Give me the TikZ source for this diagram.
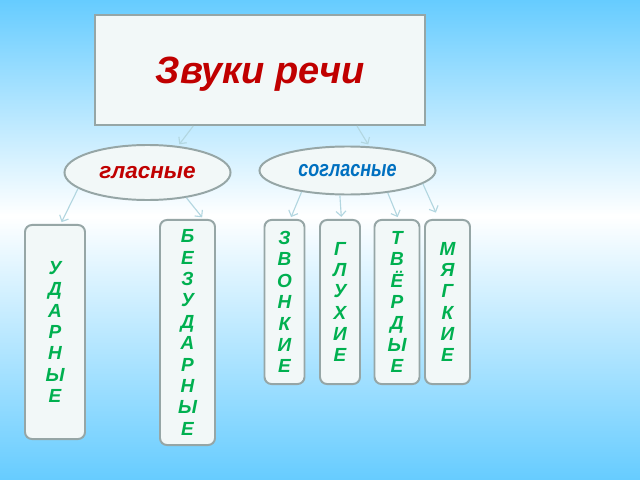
\documentclass[tikz,border=0pt]{standalone}
\usepackage{fontspec}
\setmainfont{Liberation Sans}
\newfontfamily\narrowsans[FakeStretch=0.8]{Liberation Sans}
\usetikzlibrary{arrows.meta,shapes.geometric}
\definecolor{skyblue}{RGB}{102,204,255}
\definecolor{boxfill}{RGB}{242,248,248}
\definecolor{boxline}{RGB}{150,166,166}
\definecolor{titlered}{RGB}{192,0,0}
\definecolor{consblue}{RGB}{0,112,192}
\definecolor{lettergreen}{RGB}{0,176,80}
\definecolor{arrowline}{RGB}{178,214,224}
\tikzset{
	frame/.style={draw=boxline,line width=1.4pt,fill=boxfill},
	oval/.style={frame,ellipse,inner sep=0pt},
	lbox/.style={frame,rounded corners=5pt,align=center,text=lettergreen,
		font=\fontsize{13.5pt}{15.2pt}\selectfont\bfseries\itshape},
	link/.style={-{Straight Barb[length=3.5pt,width=7pt]},draw=arrowline,line width=0.8pt,shorten >=1.5pt}
}
\newcommand{\letters}[5]{
	\node [lbox,minimum width=#3,minimum height=#4] (#1) at (#2) {#5}
}

\begin{document}
\begin{tikzpicture}[x=0.025cm,y=-0.025cm]
	% Background
	\useasboundingbox (0,0) rectangle (640,480);
	\begin{scope}[x=1cm,y=1cm]
		\shade [top color=skyblue,bottom color=white] (0,-5.4) rectangle (16,0);
		\shade [top color=white,bottom color=skyblue] (0,-12) rectangle (16,-5.4);
	\end{scope}

	% Title and the two groups
	\node [frame,minimum width=8.25cm,minimum height=2.75cm,text depth=0pt,text=titlered,
		font=\fontsize{27pt}{32pt}\selectfont\bfseries\itshape] (title) at (260,70) {Звуки речи};
	\node [oval,minimum width=4.15cm,minimum height=1.375cm,text=titlered,
		font=\fontsize{16pt}{19pt}\selectfont\bfseries\itshape] (vowels) at (147.5,172.5) {гласные};
	\node [oval,minimum width=4.4cm,minimum height=1.2cm,text=consblue,
		font=\narrowsans\fontsize{16pt}{19pt}\selectfont\bfseries\itshape] (consonants) at (347.5,170.5) {согласные};

	% Letter columns
	\letters{stressed}{55,332}{1.5cm}{5.35cm}{У\\Д\\А\\Р\\Н\\Ы\\Е};
	\letters{unstressed}{187.5,332.5}{1.375cm}{5.625cm}{Б\\Е\\З\\У\\Д\\А\\Р\\Н\\Ы\\Е};
	\letters{voiced}{284.5,302}{1cm}{4.1cm}{З\\В\\О\\Н\\К\\И\\Е};
	\letters{voiceless}{340,302}{1cm}{4.1cm}{Г\\Л\\У\\Х\\И\\Е};
	\letters{hard}{397,302}{1.125cm}{4.1cm}{Т\\В\\Ё\\Р\\Д\\Ы\\Е};
	\letters{soft}{447.5,302}{1.125cm}{4.1cm}{М\\Я\\Г\\К\\И\\Е};

	% Arrows
	\draw [link] (title.220) -- (vowels.41);
	\draw [link] (title.330) -- (consonants.48);
	\draw [link] (vowels.193) -- (stressed.87);
	\draw [link] (vowels.327) -- (unstressed.82);
	\draw [link] (consonants.205) -- (voiced.86);
	\draw [link] (consonants.253) -- (voiceless.89);
	\draw [link] (consonants.331) -- (hard.89);
	\draw [link,shorten >=5pt] (consonants.350) -- (soft.96);
\end{tikzpicture}
\end{document}
